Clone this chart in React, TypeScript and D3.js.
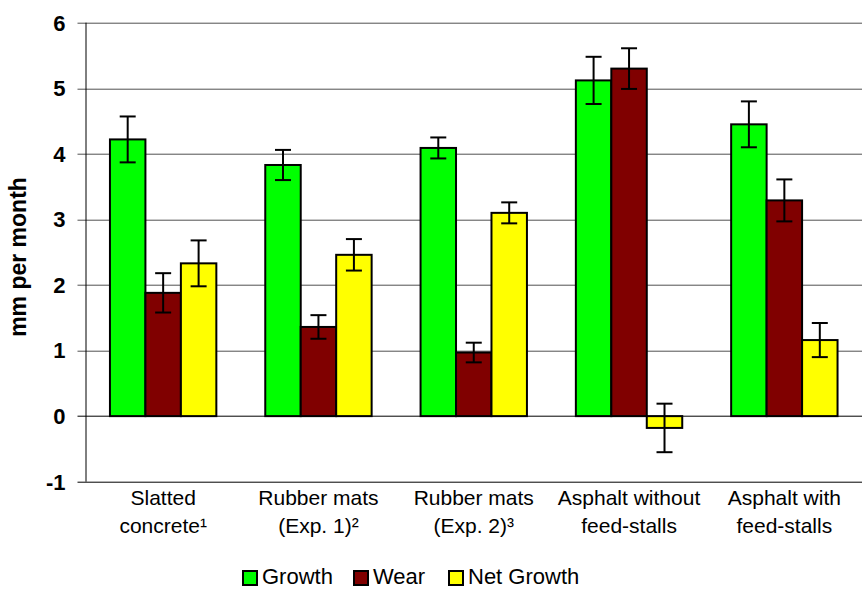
import React, { useEffect, useRef } from 'react';
import * as d3 from 'd3';

const categories = [
  ['Slatted', 'concrete¹'],
  ['Rubber mats', '(Exp. 1)²'],
  ['Rubber mats', '(Exp. 2)³'],
  ['Asphalt without', 'feed-stalls'],
  ['Asphalt with', 'feed-stalls'],
];
const seriesNames = ['Growth', 'Wear', 'Net Growth'];
const seriesColors = ['#00ff00', '#800000', '#ffff00'];

const growth = [4.22, 3.83, 4.09, 5.12, 4.45];
const growthErr = [0.35, 0.23, 0.16, 0.36, 0.35];
const wear = [1.88, 1.36, 0.97, 5.3, 3.29];
const wearErr = [0.3, 0.18, 0.15, 0.31, 0.32];
const netGrowth = [2.33, 2.46, 3.1, -0.18, 1.16];
const netErr = [0.35, 0.24, 0.16, 0.37, 0.26];

const yTicks = [-1, 0, 1, 2, 3, 4, 5, 6];

const W = 864;
const H = 589;
const FONT = '"Liberation Sans", Arial, sans-serif';

const App = () => {
  const svgRef = useRef(null);

  useEffect(() => {
    const svg = d3.select(svgRef.current);
    svg.selectAll('*').remove();

    const margin = { top: 22.7, right: 2, bottom: 107.3, left: 85.5 };
    const plotW = W - margin.left - margin.right;
    const plotH = H - margin.top - margin.bottom;

    const g = svg.append('g').attr('transform', `translate(${margin.left},${margin.top})`);

    const x0 = d3
      .scaleBand()
      .domain(categories.map((_, i) => String(i)))
      .range([0, plotW])
      .paddingInner(0.315)
      .paddingOuter(0.1575);

    const x1 = d3.scaleBand().domain(seriesNames).range([0, x0.bandwidth()]);

    const y = d3.scaleLinear().domain([-1, 6]).range([plotH, 0]);

    // gridlines
    g.selectAll('.grid')
      .data(yTicks)
      .join('line')
      .attr('x1', -8)
      .attr('x2', plotW)
      .attr('y1', d => Math.round(y(d)) + 0.5)
      .attr('y2', d => Math.round(y(d)) + 0.5)
      .attr('stroke', d => (d === 0 || d === -1 ? '#000' : '#505050'))
      .attr('stroke-width', 1);

    // y axis line
    g.append('line')
      .attr('x1', 0.5)
      .attr('x2', 0.5)
      .attr('y1', 0)
      .attr('y2', plotH)
      .attr('stroke', '#000');

    // y tick labels
    g.selectAll('.ylab')
      .data(yTicks)
      .join('text')
      .attr('x', -20)
      .attr('y', d => y(d))
      .attr('dy', '0.36em')
      .attr('text-anchor', 'end')
      .attr('font-family', FONT)
      .attr('font-weight', 'bold')
      .attr('font-size', 22)
      .text(d => d);

    // y axis title
    svg
      .append('text')
      .attr('transform', `translate(26,257) rotate(-90)`)
      .attr('text-anchor', 'middle')
      .attr('font-family', FONT)
      .attr('font-weight', 'bold')
      .attr('font-size', 23)
      .text('mm per month');

    const series = [
      { name: 'Growth', values: growth, errs: growthErr },
      { name: 'Wear', values: wear, errs: wearErr },
      { name: 'Net Growth', values: netGrowth, errs: netErr },
    ];

    series.forEach((s, si) => {
      const sg = g.append('g');
      sg.selectAll('rect')
        .data(s.values)
        .join('rect')
        .attr('x', (_, i) => x0(String(i)) + x1(s.name))
        .attr('y', d => y(Math.max(0, d)))
        .attr('width', x1.bandwidth())
        .attr('height', d => Math.abs(y(d) - y(0)))
        .attr('fill', seriesColors[si])
        .attr('stroke', '#000')
        .attr('stroke-width', 2);

      const cx = i => x0(String(i)) + x1(s.name) + x1.bandwidth() / 2;
      const eg = sg.selectAll('.err').data(s.values).join('g');
      eg.append('line')
        .attr('x1', (_, i) => cx(i))
        .attr('x2', (_, i) => cx(i))
        .attr('y1', (d, i) => y(d + s.errs[i]))
        .attr('y2', (d, i) => y(d - s.errs[i]))
        .attr('stroke', '#000')
        .attr('stroke-width', 2);
      [1, -1].forEach(sign => {
        eg.append('line')
          .attr('x1', (_, i) => cx(i) - 8)
          .attr('x2', (_, i) => cx(i) + 8)
          .attr('y1', (d, i) => y(d + sign * s.errs[i]))
          .attr('y2', (d, i) => y(d + sign * s.errs[i]))
          .attr('stroke', '#000')
          .attr('stroke-width', 2);
      });
    });

    // category labels
    categories.forEach((lines, i) => {
      const cxp = x0(String(i)) + x0.bandwidth() / 2;
      const t = g
        .append('text')
        .attr('x', cxp)
        .attr('y', plotH + 23)
        .attr('text-anchor', 'middle')
        .attr('font-family', FONT)
        .attr('font-size', 21);
      lines.forEach((l, j) => {
        t.append('tspan')
          .attr('x', cxp)
          .attr('dy', j === 0 ? 0 : 28)
          .text(l);
      });
    });

    // legend
    const legendX = [242, 353, 448];
    const lg = svg.append('g');
    seriesNames.forEach((name, i) => {
      lg.append('rect')
        .attr('x', legendX[i] + 1)
        .attr('y', 571)
        .attr('width', 14)
        .attr('height', 14)
        .attr('fill', seriesColors[i])
        .attr('stroke', '#000')
        .attr('stroke-width', 2);
      lg.append('text')
        .attr('x', legendX[i] + 20)
        .attr('y', 584)
        .attr('font-family', FONT)
        .attr('font-size', 22)
        .text(name);
    });
  }, []);

  return (
    <div style={{ position: 'absolute', left: 0, top: 0 }}>
      <svg ref={svgRef} width={W} height={H} style={{ display: 'block', background: '#fff' }} />
    </div>
  );
};

export default App;
